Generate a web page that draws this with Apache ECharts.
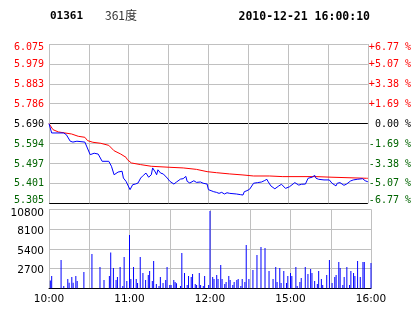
<!DOCTYPE html>
<html>
<head>
<meta charset="utf-8">
<script src="https://cdn.jsdelivr.net/npm/echarts@6/dist/echarts.min.js"></script>
<style>
html,body{margin:0;padding:0;background:#fff;}
#c{width:414px;height:314px;}
</style>
</head>
<body>
<div id="c"></div>
<script>
// ---- data ----
var stockCode = '01361';
var stockName = '361度';
var stamp = '2010-12-21 16:00:10';

var priceLabels = ['5.305','5.401','5.497','5.594','5.690','5.786','5.883','5.979','6.075'];
var pctLabels = ['-6.77 %','-5.07 %','-3.38 %','-1.69 %',' 0.00 %','+1.69 %','+3.38 %','+5.07 %','+6.77 %'];
var volLabels = ['', '2700', '5400', '8100', '10800'];
var timeTicks = [0, 60, 120, 180, 240];
var timeLabels = ['10:00', '11:00', '12:00', '15:00', '16:00'];

var priceMinutes = [0,2,11,13,16,17,18,21,27,28,31,32,34,37,38,40,45,47,49,50,52,55,56,58,59,61,63,65,67,69,71,73,75,77,78,80,81,82,84,86,89,91,94,96,99,101,103,104,106,109,111,114,116,119,120,122,124,126,128,130,132,134,136,141,144,146,147,148,149,151,154,157,160,162,164,165,167,170,171,173,175,176,178,181,185,186,188,190,193,195,198,200,201,203,207,211,213,214,216,217,219,222,224,227,229,232,236,238,240];
var priceValues = [5.690,5.645,5.645,5.637,5.605,5.608,5.601,5.605,5.601,5.596,5.540,5.537,5.547,5.543,5.545,5.508,5.508,5.484,5.443,5.447,5.456,5.460,5.427,5.411,5.403,5.371,5.395,5.398,5.403,5.427,5.440,5.451,5.431,5.443,5.476,5.456,5.443,5.467,5.451,5.447,5.427,5.411,5.398,5.408,5.422,5.424,5.435,5.411,5.403,5.414,5.406,5.408,5.402,5.398,5.371,5.366,5.361,5.358,5.353,5.358,5.350,5.356,5.353,5.350,5.347,5.345,5.361,5.359,5.366,5.373,5.402,5.405,5.408,5.414,5.421,5.409,5.389,5.375,5.373,5.389,5.397,5.398,5.377,5.385,5.405,5.398,5.393,5.397,5.398,5.426,5.431,5.440,5.426,5.421,5.418,5.418,5.402,5.397,5.389,5.402,5.405,5.392,5.398,5.413,5.418,5.421,5.424,5.414,5.409];

var avgMinutes = [0,3,7,12,17,22,27,29,33,39,45,49,54,58,59,62,69,77,91,101,111,119,126,136,146,154,166,176,201,213,239,240];
var avgValues = [5.690,5.661,5.650,5.645,5.640,5.629,5.624,5.608,5.600,5.595,5.585,5.559,5.543,5.527,5.516,5.500,5.492,5.484,5.479,5.476,5.469,5.458,5.453,5.447,5.442,5.437,5.437,5.434,5.434,5.431,5.426,5.426];

var volMinutes = [1,2,9,11,14,15,17,18,20,21,26,32,38,41,45,46,48,50,51,53,55,56,58,60,61,63,65,66,68,70,72,74,75,77,78,80,82,83,85,87,88,90,91,93,94,95,98,99,101,103,104,106,107,109,110,112,113,115,116,119,120,
  122,123,125,126,128,129,131,132,134,135,137,138,140,141,143,144,146,147,149,152,155,158,161,164,167,169,170,172,173,175,177,178,180,181,184,185,187,188,191,193,195,196,198,200,201,203,204,207,209,211,213,214,216,217,219,220,222,224,225,227,228,230,232,234,235,240];
var volValues = [1050,1690,3870,320,1280,775,1550,775,1690,1000,2230,4690,2920,1140,1690,4880,2780,1140,1550,2920,320,4280,1000,7290,1280,2920,1280,730,4280,2100,1140,1820,2370,1000,3740,590,320,1550,730,1140,2920,460,460,1140,870,680,320,4830,2100,460,1690,1550,1960,590,460,2100,460,320,1690,460,10570,
  1550,1280,1820,1280,3190,1280,590,870,1690,1140,460,870,1140,1280,320,1280,870,5920,1280,2510,4560,5650,5510,2370,1280,2920,870,2780,730,2370,730,1690,2100,1690,2920,320,870,1410,2920,1960,2640,2100,1000,590,2370,1280,460,1820,3870,730,1550,1820,3600,2780,460,1550,2920,460,2370,2100,1690,3740,1550,3600,3600,3460];

// ---- build ----
var pMin = 5.305, pMax = 6.075, pInt = (pMax - pMin) / 8;
function zip(a, b) { return a.map(function (v, i) { return [v, b[i]]; }); }
function pIdx(v) { return Math.round((v - pMin) / pInt); }
function pStyle(i) {
  var c = i < 4 ? 'g' : (i === 4 ? 'k' : 'r');
  var p = i === 8 ? 't' : (i === 0 ? 'b' : 'm');
  return c + p;
}
var monoFont = 'DejaVu Sans Mono';
var rich = {};
['g', 'k', 'r'].forEach(function (c) {
  var col = c === 'g' ? '#006400' : (c === 'k' ? '#000000' : '#ff0000');
  rich[c + 't'] = { color: col, fontFamily: monoFont, fontSize: 10, padding: [6, 0, 0, 0] };
  rich[c + 'b'] = { color: col, fontFamily: monoFont, fontSize: 10, padding: [0, 0, 6, 0] };
  rich[c + 'm'] = { color: col, fontFamily: monoFont, fontSize: 10, padding: [1, 0, 0, 0] };
});
var gridGray = '#c0c0c0';
var splitColors = ['#000000', gridGray, gridGray, gridGray, '#000000', gridGray, gridGray, gridGray, gridGray];

var chart = echarts.init(document.getElementById('c'), null, { renderer: 'canvas' });
chart.setOption({
  animation: false,
  backgroundColor: '#ffffff',
  graphic: [
    { type: 'text', left: 50, top: 11, style: { text: stockCode, font: 'bold 11px "DejaVu Sans Mono"', fill: '#000' } },
    { type: 'text', left: 105, top: 9, style: { text: stockName, font: '12px "Noto Sans CJK SC"', fill: '#333' } },
    { type: 'text', right: 44, top: 11, style: { text: stamp, font: 'bold 11.5px "DejaVu Sans Mono"', fill: '#000' } }
  ],
  grid: [
    { left: 49, top: 44, width: 322, height: 159.3 },
    { left: 49, top: 209.3, width: 322, height: 79 }
  ],
  xAxis: [
    { type: 'value', gridIndex: 0, min: 0, max: 240, interval: 30,
      axisLine: { show: false }, axisTick: { show: false }, axisLabel: { show: false },
      splitLine: { show: true, lineStyle: { color: gridGray, width: 1 } } },
    { type: 'value', gridIndex: 1, min: 0, max: 240, interval: 30,
      axisLine: { show: true, onZero: false, lineStyle: { color: '#000', width: 1 } },
      axisTick: { show: false },
      axisLabel: { show: true, margin: 5, color: '#000', fontFamily: 'DejaVu Sans', fontSize: 10.5,
        showMinLabel: true, showMaxLabel: true,
        formatter: function (v) { var k = timeTicks.indexOf(Math.round(v)); return k >= 0 ? timeLabels[k] : ''; } },
      splitLine: { show: true, lineStyle: { color: gridGray, width: 1 } } }
  ],
  yAxis: [
    { type: 'value', gridIndex: 0, position: 'left', min: pMin, max: pMax, interval: pInt,
      axisLine: { show: false }, axisTick: { show: false },
      axisLabel: { margin: 5, showMinLabel: true, showMaxLabel: true,
        formatter: function (v) { var i = pIdx(v); return '{' + pStyle(i) + '|' + priceLabels[i] + '}'; }, rich: rich },
      splitLine: { show: true, lineStyle: { color: splitColors, width: 1 } } },
    { type: 'value', gridIndex: 0, position: 'right', min: pMin, max: pMax, interval: pInt,
      axisLine: { show: false }, axisTick: { show: false },
      axisLabel: { margin: 1, align: 'left', showMinLabel: true, showMaxLabel: true,
        formatter: function (v) { var i = pIdx(v); return '{' + pStyle(i) + '|' + pctLabels[i] + '}'; }, rich: rich },
      splitLine: { show: false } },
    { type: 'value', gridIndex: 1, min: 0, max: 10800, interval: 2700,
      axisLine: { show: false }, axisTick: { show: false },
      axisLabel: { margin: 5, color: '#000', fontFamily: 'DejaVu Sans', fontSize: 10.5,
        showMinLabel: true, showMaxLabel: true,
        formatter: function (v) { var i = Math.round(v / 2700); return i === 4 ? '{t|' + volLabels[i] + '}' : (volLabels[i] ? '{m|' + volLabels[i] + '}' : ''); },
        rich: { t: { color: '#000', fontFamily: 'DejaVu Sans', fontSize: 10.5, padding: [8, 0, 0, 0] },
                m: { color: '#000', fontFamily: 'DejaVu Sans', fontSize: 10.5, padding: [4, 0, 0, 0] } } },
      splitLine: { show: true, lineStyle: { color: gridGray, width: 1 } } }
  ],
  series: [
    { name: 'avg', type: 'line', xAxisIndex: 0, yAxisIndex: 0, data: zip(avgMinutes, avgValues),
      showSymbol: false, symbol: 'none', lineStyle: { color: '#ff0000', width: 1 }, z: 3 },
    { name: 'price', type: 'line', xAxisIndex: 0, yAxisIndex: 0, data: zip(priceMinutes, priceValues),
      showSymbol: false, symbol: 'none', lineStyle: { color: '#0000ff', width: 1 }, z: 4 },
    { name: 'vol', type: 'bar', xAxisIndex: 1, yAxisIndex: 2, data: zip(volMinutes, volValues),
      barWidth: 1, itemStyle: { color: '#0000ff' } }
  ]
});
</script>
</body>
</html>
